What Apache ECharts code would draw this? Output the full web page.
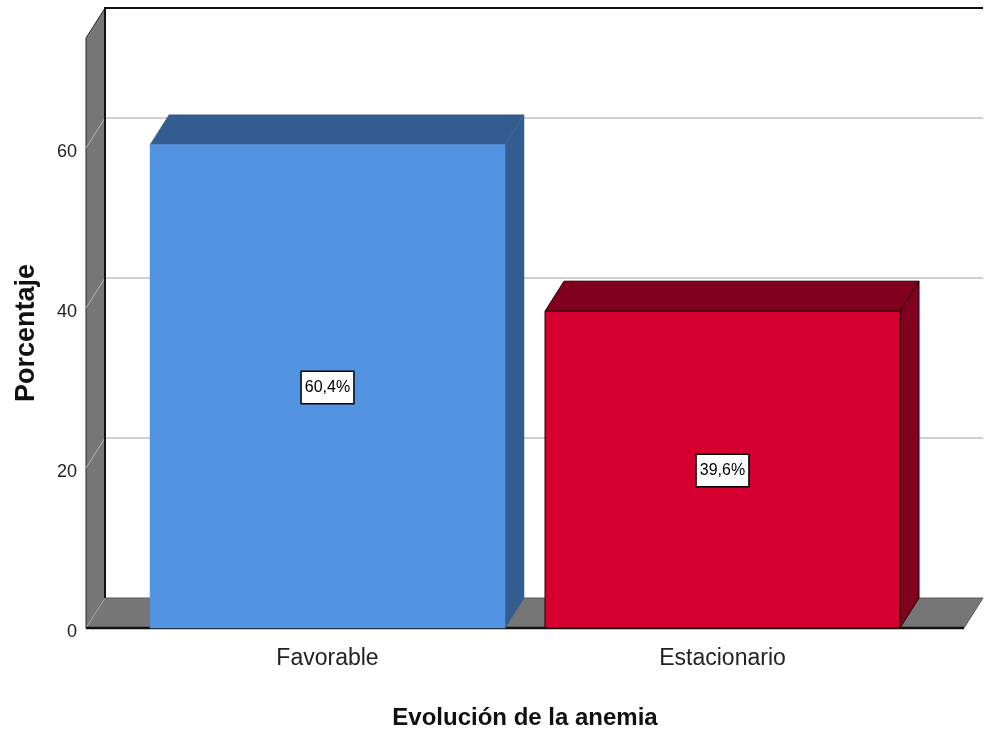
<!DOCTYPE html>
<html>
<head>
<meta charset="utf-8">
<script src="https://cdn.jsdelivr.net/npm/echarts@6/dist/echarts.min.js"></script>
<style>
  html, body { margin: 0; padding: 0; background: #fff; }
  #chart { width: 984px; height: 731px; }
</style>
</head>
<body>
<div id="chart"></div>
<script>
// Chart data
const categories = ['Favorable', 'Estacionario'];
const percentages = [60.4, 39.6];
const yTicks = [0, 20, 40, 60];
const yMax = 73.75;
const xTitle = 'Evolución de la anemia';
const yTitle = 'Porcentaje';

// Styling
const frontColors = ['#5394e2', '#d50030'];
const shadeColors = ['#345d8f', '#82001f'];
const edgeColors = [null, '#1e0006'];
const DX = 19, DY = -30;      // depth offset of the 3D box
const SIDE_PAD = 44;          // floor extends past the outer category bands
const BAR_GAP = 40;           // space between neighbouring bars
const FONT = '"Liberation Sans", Arial, sans-serif';

const chart = echarts.init(document.getElementById('chart'));

// Back wall, left wall, floor and gridlines of the 3D box
function renderFrame(params, api) {
  const cs = params.coordSys;
  const x0 = cs.x - SIDE_PAD;
  const x1 = cs.x + cs.width + SIDE_PAD;
  const yb = api.coord([0, 0])[1];
  const yt = api.coord([0, yMax])[1];
  const children = [];

  children.push({ type: 'rect',
    shape: { x: x0 + DX, y: yt + DY, width: x1 - x0, height: yb - yt },
    style: { fill: '#ffffff' } });

  yTicks.filter(v => v > 0).forEach(v => {
    const y = api.coord([0, v])[1];
    children.push({ type: 'line',
      shape: { x1: x0 + DX, y1: y + DY, x2: x1 + DX, y2: y + DY },
      style: { stroke: '#cfcfcf', lineWidth: 2 } });
  });

  children.push({ type: 'polygon',
    shape: { points: [[x0, yt], [x0 + DX, yt + DY], [x0 + DX, yb + DY], [x0, yb]] },
    style: { fill: '#767676', stroke: '#2a2a2a', lineWidth: 1 } });

  yTicks.filter(v => v > 0).forEach(v => {
    const y = api.coord([0, v])[1];
    children.push({ type: 'line',
      shape: { x1: x0, y1: y, x2: x0 + DX, y2: y + DY },
      style: { stroke: '#b4b4b4', lineWidth: 1 } });
  });

  children.push({ type: 'polygon',
    shape: { points: [[x0, yb], [x1, yb], [x1 + DX, yb + DY], [x0 + DX, yb + DY]] },
    style: { fill: '#767676', stroke: '#5a5a5a', lineWidth: 1 } });

  children.push({ type: 'line',
    shape: { x1: x0, y1: yb, x2: x0 + DX, y2: yb + DY },
    style: { stroke: '#b4b4b4', lineWidth: 1 } });

  children.push({ type: 'polyline',
    shape: { points: [[x0 + DX, yb + DY], [x0 + DX, yt + DY], [x1 + DX, yt + DY]] },
    style: { stroke: '#111111', lineWidth: 2, fill: null } });

  children.push({ type: 'line',
    shape: { x1: x0, y1: yb, x2: x1, y2: yb },
    style: { stroke: '#111111', lineWidth: 2.5 } });

  return { type: 'group', children };
}

// One 3D bar per category with a boxed value label
function renderBar(params, api) {
  const i = params.dataIndex;
  const idx = api.value(0);
  const v = api.value(1);
  const top = api.coord([idx, v]);
  const cx = top[0], yTop = top[1];
  const yBase = api.coord([idx, 0])[1];
  const w = api.size([1, 0])[0] - BAR_GAP;
  const xl = cx - w / 2, xr = cx + w / 2;
  const edge = edgeColors[i];
  const st = fill => ({ fill, stroke: edge || fill, lineWidth: edge ? 1 : 0.5 });
  const text = v.toFixed(1).replace('.', ',') + '%';

  return { type: 'group', children: [
    { type: 'polygon',
      shape: { points: [[xr, yTop], [xr + DX, yTop + DY], [xr + DX, yBase + DY], [xr, yBase]] },
      style: st(shadeColors[i]) },
    { type: 'polygon',
      shape: { points: [[xl, yTop], [xr, yTop], [xr + DX, yTop + DY], [xl + DX, yTop + DY]] },
      style: st(shadeColors[i]) },
    { type: 'rect',
      shape: { x: xl, y: yTop, width: w, height: yBase - yTop },
      style: st(frontColors[i]) },
    { type: 'text', x: cx, y: (yTop + yBase) / 2 + 1,
      style: { text, fill: '#000', fontFamily: FONT, fontSize: 16,
        align: 'center', verticalAlign: 'middle',
        backgroundColor: '#fff', borderColor: '#000', borderWidth: 1.5,
        padding: [8, 3, 7, 3] } }
  ] };
}

chart.setOption({
  animation: false,
  backgroundColor: '#ffffff',
  grid: { left: 130, right: 64, top: 38, bottom: 103, outerBoundsMode: 'none', containLabel: false },
  xAxis: {
    type: 'category',
    data: categories,
    axisLine: { show: false },
    axisTick: { show: false },
    axisLabel: { margin: 19, fontSize: 23, color: '#222', fontFamily: FONT },
    name: xTitle,
    nameLocation: 'middle',
    nameGap: 78,
    nameTextStyle: { fontSize: 24, fontWeight: 'bold', color: '#111', fontFamily: FONT }
  },
  yAxis: {
    type: 'value',
    min: 0,
    max: yMax,
    interval: 20,
    offset: SIDE_PAD,
    axisLine: { show: false },
    axisTick: { show: false },
    splitLine: { show: false },
    axisLabel: { showMaxLabel: false, margin: 9,
      formatter: '{t|{value}}',
      rich: { t: { fontSize: 18, color: '#222', fontFamily: FONT, padding: [8, 0, 0, 0] } } },
    name: yTitle,
    nameLocation: 'middle',
    nameRotate: 90,
    nameGap: 46,
    nameTextStyle: { fontSize: 27, fontWeight: 'bold', color: '#111', fontFamily: FONT }
  },
  series: [
    { type: 'custom', renderItem: renderFrame, data: [[0, 0]], clip: false, silent: true, z: 1 },
    { type: 'custom', renderItem: renderBar, clip: false, z: 2,
      data: percentages.map((p, k) => [k, p]) }
  ]
});
</script>
</body>
</html>
